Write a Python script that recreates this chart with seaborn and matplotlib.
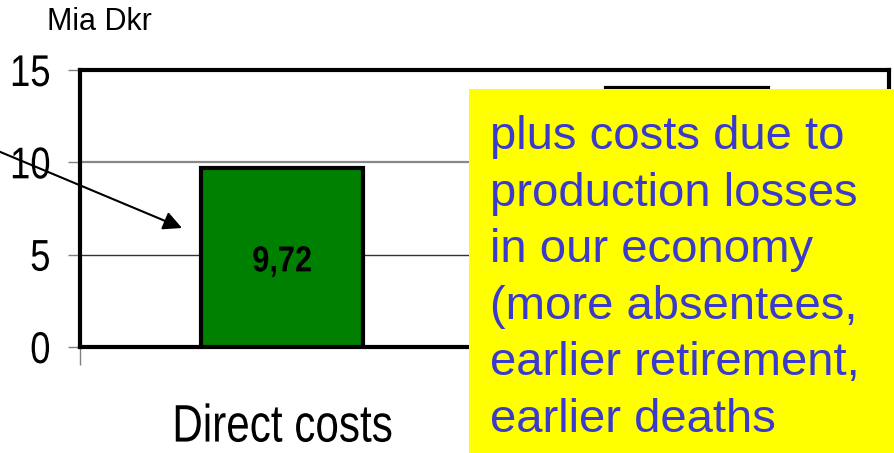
import matplotlib
matplotlib.use("Agg")
import matplotlib.pyplot as plt
import seaborn as sns
import pandas as pd
from matplotlib.patches import Rectangle
from matplotlib.patheffects import AbstractPathEffect
from matplotlib.transforms import Affine2D

categories = ["Direct costs", "Indirect costs"]
values = [9.72, 14.0]
value_labels = ["9,72", ""]
y_ticks = [0, 5, 10, 15]
unit_label = "Mia Dkr"
note_text = ("plus costs due to\nproduction losses\nin our economy\n"
             "(more absentees,\nearlier retirement,\nearlier deaths")


class Condensed(AbstractPathEffect):
    """Draw text glyphs horizontally condensed (Arial Narrow look)."""
    def __init__(self, sx=0.8, anchor="center"):
        super().__init__()
        self.sx = sx
        self.anchor = anchor

    def draw_path(self, renderer, gc, tpath, affine, rgbFace=None):
        ext = tpath.get_extents()
        if self.anchor == "right":
            cx = ext.x1
        elif self.anchor == "left":
            cx = ext.x0
        else:
            cx = (ext.x0 + ext.x1) / 2
        t = Affine2D().translate(-cx, 0).scale(self.sx, 1).translate(cx, 0)
        renderer.draw_path(gc, tpath, t + affine, rgbFace)


sns.set_theme(style="white")
plt.rcParams["font.family"] = ["Liberation Sans", "DejaVu Sans"]
plt.rcParams["text.color"] = "black"
plt.rcParams["xtick.color"] = "black"
plt.rcParams["ytick.color"] = "black"

df = pd.DataFrame({"category": categories, "value": values})

fig = plt.figure(figsize=(8.95, 4.53), dpi=100)
ax = fig.add_axes([80/895, 1-347/453, (889-80)/895, (347-70)/453])

sns.barplot(data=df, x="category", y="value", ax=ax, width=0.4,
            palette=["#008000", "#008000"], hue="category", legend=False,
            saturation=1, edgecolor="black", linewidth=3, zorder=3)

ax.set_ylim(0, 15)
ax.set_xlim(-0.5, 1.5)
ax.set_yticks(y_ticks)
ax.set_yticklabels([str(t) for t in y_ticks], fontsize=32)
for lab in ax.get_yticklabels():
    lab.set_path_effects([Condensed(0.82, "right")])
ax.set_xlabel("")
ax.set_ylabel("")
ax.tick_params(axis="y", which="major", left=True, length=9, width=1,
               color="#808080", labelcolor="black", pad=12)
ax.tick_params(axis="x", which="major", bottom=False, length=0, pad=40,
               labelcolor="black")
xlabs = ax.get_xticklabels()
for i, lab in enumerate(xlabs):
    lab.set_fontsize(38)
    lab.set_path_effects([Condensed(0.8, "center")])
    if i > 0:
        # hidden behind the yellow note in the original
        lab.set_visible(False)
ax.set_xticks([-0.5, 0.5, 1.5], minor=True)
ax.tick_params(axis="x", which="minor", bottom=True, length=13, width=1,
               color="#808080")

ax.axhline(y_ticks[1], color="#333333", lw=1, zorder=1)
ax.axhline(y_ticks[2], color="#888888", lw=1.6, zorder=1)

for s in ax.spines.values():
    s.set_visible(True)
    s.set_color("black")
    s.set_linewidth(3)

for i, (v, lab) in enumerate(zip(values, value_labels)):
    if lab:
        ax.text(i, v / 2 - 0.25, lab, ha="center", va="center", fontsize=26,
                fontweight="bold", color="black", zorder=5,
                path_effects=[Condensed(0.85, "center")])

fig.text(47/895, 1-22/453, unit_label, fontsize=22, ha="left", va="center",
         color="black")

ax.annotate("", xy=(182/895, 1-228/453), xycoords="figure fraction",
            xytext=(-2/895, 1-151/453), textcoords="figure fraction",
            arrowprops=dict(arrowstyle="-|>", lw=1.5, color="black",
                            mutation_scale=28, shrinkA=0, shrinkB=0),
            zorder=6, annotation_clip=False)

fig.patches.append(Rectangle((469/895, 0), (895-469)/895, 1-89/453,
                             transform=fig.transFigure, facecolor="#ffff00",
                             edgecolor="none", zorder=10))
fig.text(490/895, 1-115/453, note_text, fontsize=34, color="#3a3acc",
         ha="left", va="top", linespacing=1.37, zorder=11)

fig.savefig("out.png", dpi=100)
